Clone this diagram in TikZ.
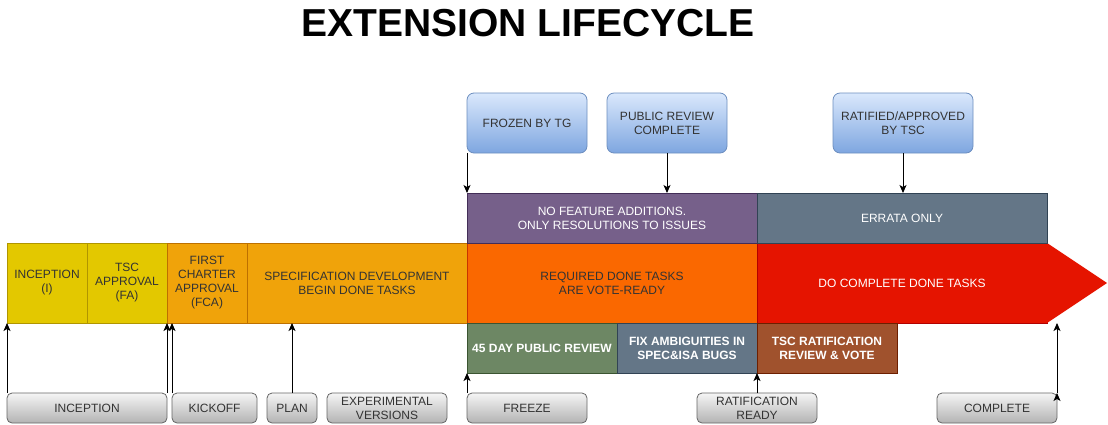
\documentclass[tikz,border=0pt]{standalone}
\usepackage{fontspec}
\setmainfont{Liberation Sans}
\usetikzlibrary{positioning,shapes,arrows.meta}

\definecolor{darktext}{HTML}{333333}
\definecolor{yelfill}{HTML}{E3C800}
\definecolor{yelline}{HTML}{B09500}
\definecolor{orgfill}{HTML}{F0A30A}
\definecolor{orgline}{HTML}{BD7000}
\definecolor{hotfill}{HTML}{FA6800}
\definecolor{hotline}{HTML}{C73500}
\definecolor{redfill}{HTML}{E51400}
\definecolor{redline}{HTML}{B20000}
\definecolor{purfill}{HTML}{76608A}
\definecolor{purline}{HTML}{432D57}
\definecolor{slafill}{HTML}{647687}
\definecolor{slaline}{HTML}{314354}
\definecolor{grnfill}{HTML}{6D8764}
\definecolor{grnline}{HTML}{3A5431}
\definecolor{brnfill}{HTML}{A0522D}
\definecolor{brnline}{HTML}{6D1F00}
\definecolor{gatetop}{HTML}{DAE8FC}
\definecolor{gatebot}{HTML}{7EA6E0}
\definecolor{gateline}{HTML}{6C8EBF}
\definecolor{mstop}{HTML}{F5F5F5}
\definecolor{msbot}{HTML}{B3B3B3}
\definecolor{msline}{HTML}{666666}

\begin{document}
\begin{tikzpicture}[x=1pt,y=-1pt,
  node distance=0pt and 0pt,
  every node/.style={inner sep=0pt,outer sep=0pt,align=center,
    font=\fontsize{12}{14}\selectfont},
  phase/.style={draw,line width=0.8pt,minimum height=80pt,text=darktext},
  band/.style={draw,line width=0.8pt,minimum height=50pt,text=white},
  gate/.style={draw=gateline,line width=0.8pt,rounded corners=7pt,
    top color=gatetop,bottom color=gatebot,minimum height=60pt,text=darktext},
  mstone/.style={draw=msline,line width=0.8pt,rounded corners=5pt,
    top color=mstop,bottom color=msbot,minimum height=30pt,text=darktext}]
\useasboundingbox (0,0) rectangle (1108,424);

\node[font=\fontsize{39}{44}\bfseries\selectfont, anchor=base] (title) at (528,36) {EXTENSION LIFECYCLE};

% main phases
\node[phase, fill=yelfill, draw=yelline, minimum width=80pt, anchor=north west] (inc) at (7,243) {INCEPTION\\(I)};
\node[phase, fill=yelfill, draw=yelline, minimum width=80pt, right=of inc] (tsc) {TSC\\APPROVAL\\(FA)};
\node[phase, fill=orgfill, draw=orgline, minimum width=80pt, right=of tsc] (fca) {FIRST\\CHARTER\\APPROVAL\\(FCA)};
\node[phase, fill=orgfill, draw=orgline, minimum width=220pt, right=of fca] (spec) {SPECIFICATION DEVELOPMENT\\BEGIN DONE TASKS};
\node[phase, fill=hotfill, draw=hotline, minimum width=290pt, right=of spec] (req) {REQUIRED DONE TASKS\\ARE VOTE-READY};
\node[phase, fill=redfill, draw=redline, minimum width=290pt, right=of req, text=white] (done) {DO COMPLETE DONE TASKS};
\fill[redfill] (done.north east) -- ++(60,40) -- (done.south east) -- cycle;

% bands above and below
\node[band, fill=purfill, draw=purline, minimum width=290pt, above=of req] (nofeat) {NO FEATURE ADDITIONS.\\ONLY RESOLUTIONS TO ISSUES};
\node[band, fill=slafill, draw=slaline, minimum width=290pt, above=of done] (errata) {ERRATA ONLY};
\node[band, fill=grnfill, draw=grnline, minimum width=150pt, anchor=north west, font=\fontsize{12}{14}\bfseries\selectfont] (pr45) at (req.south west) {45 DAY PUBLIC REVIEW};
\node[band, fill=slafill, draw=slaline, minimum width=140pt, right=of pr45, font=\fontsize{12}{14}\bfseries\selectfont] (fix) {FIX AMBIGUITIES IN\\SPEC\&ISA BUGS};
\node[band, fill=brnfill, draw=brnline, minimum width=140pt, right=of fix, font=\fontsize{12}{14}\bfseries\selectfont] (tscr) {TSC RATIFICATION\\REVIEW \& VOTE};

% gates on top
\node[gate, minimum width=120pt, anchor=north west] (frozen) at (467,93) {FROZEN BY TG};
\node[gate, minimum width=120pt, anchor=north west] (pubrc) at (607,93) {PUBLIC REVIEW\\COMPLETE};
\node[gate, minimum width=140pt, anchor=north west] (ratd) at (833,93) {RATIFIED/APPROVED\\BY TSC};

% milestones at the bottom
\node[mstone, minimum width=160pt, anchor=north west] (ginc) at (7,393) {INCEPTION};
\node[mstone, minimum width=85pt, right=5pt of ginc] (gkick) {KICKOFF};
\node[mstone, minimum width=50pt, right=10pt of gkick] (gplan) {PLAN};
\node[mstone, minimum width=120pt, right=10pt of gplan] (gexp) {EXPERIMENTAL\\VERSIONS};
\node[mstone, minimum width=120pt, right=20pt of gexp] (gfrz) {FREEZE};
\node[mstone, minimum width=120pt, anchor=north west] (grr) at (697,393) {RATIFICATION\\READY};
\node[mstone, minimum width=120pt, anchor=north west] (gcmp) at (937,393) {COMPLETE};

\path[-{Stealth[length=8pt,width=7pt,inset=2pt]},draw,line width=0.9pt]
  (frozen.south west) edge (nofeat.north west)
  (pubrc.south) edge (pubrc.south |- nofeat.north)
  (ratd.south) edge (ratd.south |- errata.north)
  (ginc.north west) edge (inc.south west)
  (ginc.north east) edge (tsc.south east)
  (gkick.north west) edge (gkick.north west |- fca.south)
  (gplan.north) edge (gplan.north |- spec.south)
  (gfrz.north west) edge (pr45.south west)
  (grr.north) edge (fix.south east)
  (gcmp.north east) edge (gcmp.north east |- done.south);

\end{tikzpicture}
\end{document}
